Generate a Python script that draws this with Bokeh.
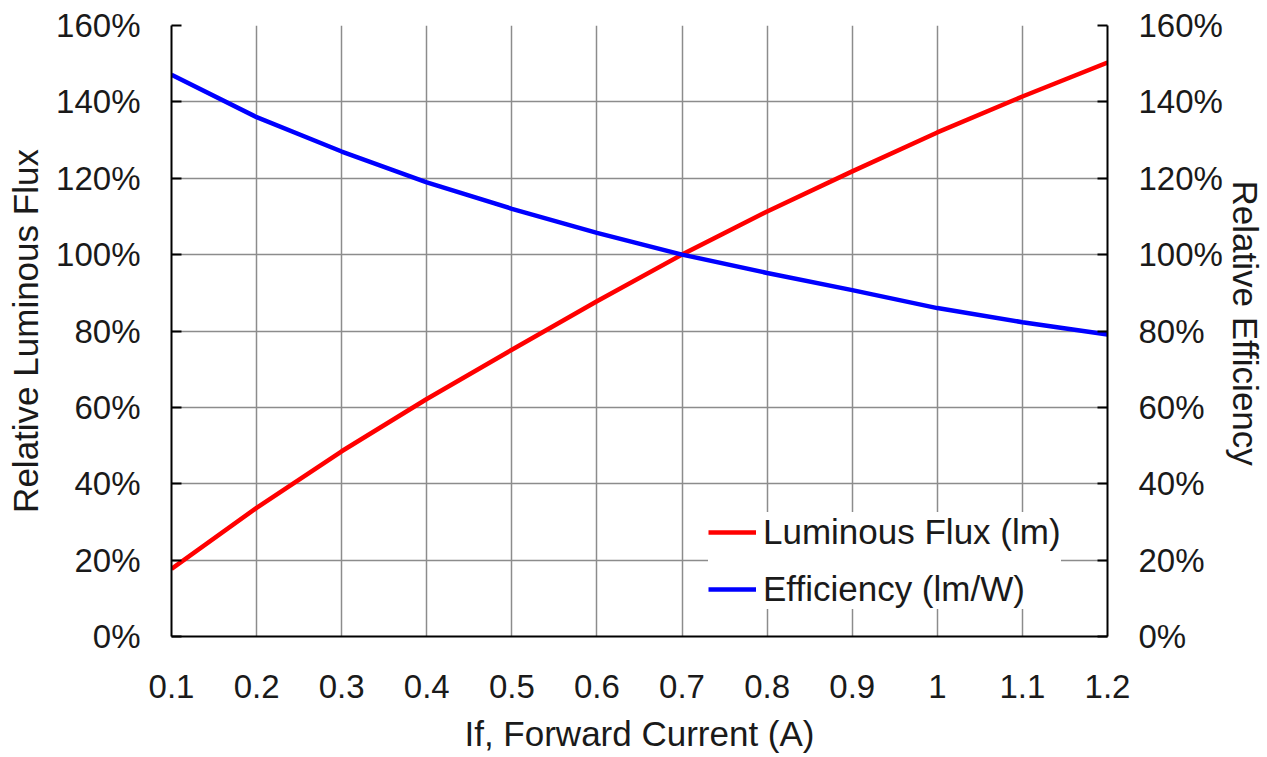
from bokeh.plotting import figure
from bokeh.models import (LinearAxis, Range1d, Legend, LegendItem, FixedTicker, Title, Grid)
from bokeh.embed import file_html
from bokeh.resources import INLINE

# ---- data ----
current = [0.1, 0.2, 0.3, 0.4, 0.5, 0.6, 0.7, 0.8, 0.9, 1.0, 1.1, 1.2]
flux_pct = [17.7, 33.7, 48.5, 62.2, 75.1, 87.8, 100.0, 111.3, 121.8, 132.0, 141.4, 150.3]
eff_pct = [147.1, 136.0, 127.0, 118.9, 112.0, 105.7, 100.0, 95.2, 90.7, 86.0, 82.3, 79.1]

x_ticks = [0.1, 0.2, 0.3, 0.4, 0.5, 0.6, 0.7, 0.8, 0.9, 1.0, 1.1, 1.2]
x_tick_labels = ["0.1", "0.2", "0.3", "0.4", "0.5", "0.6", "0.7", "0.8", "0.9", "1", "1.1", "1.2"]
y_ticks = [0, 20, 40, 60, 80, 100, 120, 140, 160]
y_tick_labels = ["0%", "20%", "40%", "60%", "80%", "100%", "120%", "140%", "160%"]

series_names = ["Luminous Flux (lm)", "Efficiency (lm/W)"]
x_title = "If, Forward Current (A)"
y_title_left = "Relative Luminous Flux"
y_title_right = "Relative Efficiency"

FONT = "Liberation Sans"
TXT = "#1a1a1a"
GRID = "#8c8c8c"

p = figure(frame_width=936, frame_height=611,
           min_border_left=171, min_border_top=25, min_border_right=120, min_border_bottom=100,
           x_range=Range1d(0.1, 1.2), y_range=Range1d(0, 160),
           output_backend="svg", toolbar_location=None,
           x_axis_location=None, y_axis_location=None)
p.outline_line_color = None
p.background_fill_color = "white"
p.border_fill_color = "white"

p.extra_y_ranges = {"eff": Range1d(0, 160)}

def style_axis(ax, tick_in):
    ax.axis_line_color = "black"
    ax.axis_line_width = 2
    ax.major_tick_in = tick_in
    ax.major_tick_out = 0
    ax.major_tick_line_color = "black"
    ax.major_tick_line_width = 2
    ax.minor_tick_line_color = None
    ax.major_label_text_font = FONT
    ax.major_label_text_font_size = "33px"
    ax.major_label_text_color = TXT
    ax.axis_label_text_font = FONT
    ax.axis_label_text_font_size = "35px"
    ax.axis_label_text_font_style = "normal"
    ax.axis_label_text_color = TXT

xaxis = LinearAxis(ticker=FixedTicker(ticks=x_ticks),
                   major_label_overrides=dict(zip(x_ticks, x_tick_labels)),
                   axis_label=x_title)
style_axis(xaxis, 0)
xaxis.major_label_standoff = 38
xaxis.axis_label_standoff = 13
p.add_layout(xaxis, "below")

yaxis = LinearAxis(ticker=FixedTicker(ticks=y_ticks),
                   major_label_overrides=dict(zip(y_ticks, y_tick_labels)),
                   axis_label=y_title_left)
style_axis(yaxis, 10)
yaxis.major_label_standoff = 31
yaxis.axis_label_standoff = 8
p.add_layout(yaxis, "left")

raxis = LinearAxis(y_range_name="eff", ticker=FixedTicker(ticks=y_ticks),
                   major_label_overrides=dict(zip(y_ticks, y_tick_labels)))
style_axis(raxis, 10)
raxis.major_label_standoff = 31
p.add_layout(raxis, "right")

rtitle = Title(text=y_title_right, align="left", offset=155, standoff=0,
               text_font=FONT, text_font_size="35px", text_font_style="normal",
               text_color=TXT)
p.add_layout(rtitle, "right")

p.xgrid.visible = False
p.ygrid.visible = False
p.add_layout(Grid(dimension=0, ticker=FixedTicker(ticks=x_ticks),
                  grid_line_color=GRID, grid_line_width=1.5))
p.add_layout(Grid(dimension=1, ticker=FixedTicker(ticks=y_ticks),
                  grid_line_color=GRID, grid_line_width=1.5))

r1 = p.line(current, flux_pct, line_color="#ff0000", line_width=4.5)
r2 = p.line(current, eff_pct, line_color="#0000ff", line_width=4.5, y_range_name="eff")

legend = Legend(items=[LegendItem(label=series_names[0], renderers=[r1]),
                       LegendItem(label=series_names[1], renderers=[r2])],
                location=(537, 27), orientation="vertical",
                background_fill_color="white", background_fill_alpha=1.0,
                border_line_color=None, padding=10, spacing=17,
                glyph_width=48, glyph_height=40, label_height=40, label_standoff=7,
                label_text_font=FONT, label_text_font_size="35px", label_text_color=TXT)
p.add_layout(legend, "center")

open("out.html", "w").write(file_html(p, INLINE))
